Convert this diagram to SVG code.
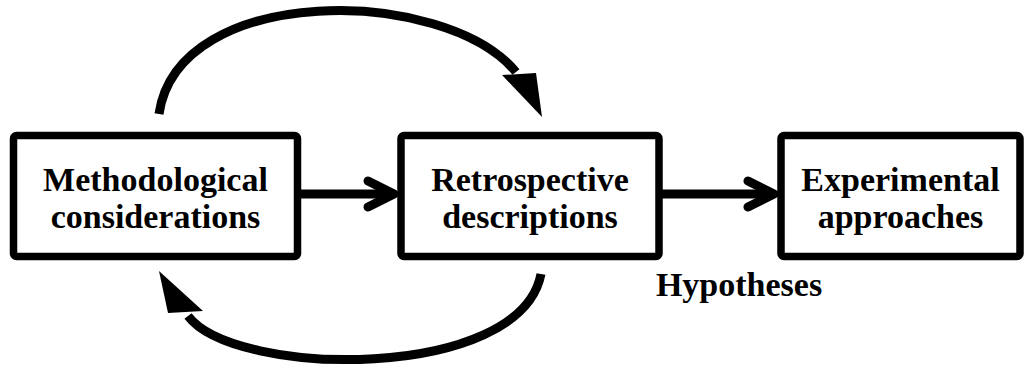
<svg xmlns="http://www.w3.org/2000/svg" width="1027" height="365" viewBox="0 0 1027 365">
<defs>
<style>
.box{fill:#fff;stroke:#000;stroke-width:7.5;stroke-linejoin:round}
.lbl{font-weight:bold;font-size:34px;fill:#000;text-anchor:middle}
.conn{fill:none;stroke:#000;stroke-width:9}
.chev{fill:none;stroke:#000;stroke-width:9;stroke-linecap:round;stroke-linejoin:round}
.head{fill:#000;stroke:none}
</style>
</defs>
<rect width="1027" height="365" fill="#fff"/>
<g id="connectors">
<line class="conn" x1="298" y1="194" x2="392" y2="194"/>
<polyline class="chev" points="368,181 394,194 368,207"/>
<line class="conn" x1="659" y1="194" x2="772" y2="194"/>
<polyline class="chev" points="748,181 774,194 748,207"/>
<path class="conn" d="M159,114 C178,-18 445,-14 516,72"/>
<polygon class="head" points="502,75 536,73 542,117"/>
<path class="conn" d="M541,274 C520,382 235,378 188,316"/>
<polygon class="head" points="159,271 168,313 203,311"/>
</g>
<g font-family="'Liberation Serif', 'Times New Roman', 'DejaVu Serif', serif">
<g id="node-methodological">
<rect class="box" x="13.5" y="135.5" width="284" height="121" rx="3"/>
<text class="lbl" x="155.5" y="191">Methodological</text>
<text class="lbl" x="155.5" y="228">considerations</text>
</g>
<g id="node-retrospective">
<rect class="box" x="401" y="135.5" width="258" height="121" rx="3"/>
<text class="lbl" x="530" y="191">Retrospective</text>
<text class="lbl" x="530" y="228">descriptions</text>
</g>
<g id="node-experimental">
<rect class="box" x="781" y="135.5" width="239" height="121" rx="3"/>
<text class="lbl" x="900.5" y="191">Experimental</text>
<text class="lbl" x="900.5" y="228">approaches</text>
</g>
<g id="label-hypotheses">
<text class="lbl" x="739" y="296">Hypotheses</text>
</g>
</g>
</svg>
